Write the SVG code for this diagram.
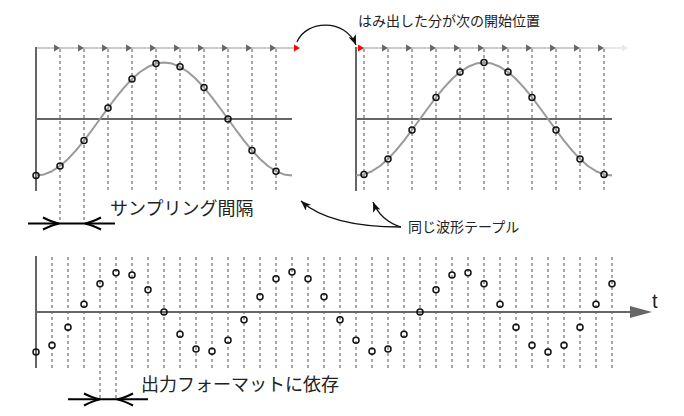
<svg xmlns="http://www.w3.org/2000/svg" width="684" height="416" viewBox="0 0 684 416">
<style>
.axis{stroke:#666;stroke-width:2;fill:none}
.dash{stroke:#777;stroke-width:1.3;stroke-dasharray:3 3;fill:none}
.curve{stroke:#999;stroke-width:2;fill:none;stroke-linejoin:round}
.pt{fill:none;stroke:#111;stroke-width:1.5}
.top{stroke:#ccc;stroke-width:2}
.lbl{font-family:"Noto Sans CJK JP","Noto Sans",sans-serif;fill:#222}
.conn{stroke:#111;stroke-width:1.3;fill:none}
.meas{stroke:#000;stroke-width:2;fill:none}
.chev{stroke:#000;stroke-width:2;fill:none;stroke-linejoin:miter}
</style>
<defs>
<path id="tri" d="M0,0 L-6,-3.5 L-6,3.5 Z"/>
<circle id="c" r="3"/>
<marker id="ah" markerUnits="userSpaceOnUse" markerWidth="11" markerHeight="8" refX="10" refY="4" orient="auto">
<path d="M0,0 L10,4 L0,8 L2.5,4 Z" fill="#111"/>
</marker>
<linearGradient id="fade" x1="356" y1="0" x2="630" y2="0" gradientUnits="userSpaceOnUse">
<stop offset="0" stop-color="#ccc"/>
<stop offset="0.75" stop-color="#ccc"/>
<stop offset="1" stop-color="#f0f0f0"/>
</linearGradient>
</defs>

<g id="chart-top-left">
<line class="top" x1="36" y1="48" x2="298" y2="48"/>
<path class="dash" d="M60,49V221M84,49V221M108,49V191M132,49V191M156,49V191M180,49V191M204,49V191M228,49V191M252,49V191M276,49V191"/>
<path class="axis" d="M36,47V191M36,119H292"/>
<g fill="#666">
<use href="#tri" x="60" y="48"/><use href="#tri" x="84" y="48"/><use href="#tri" x="108" y="48"/><use href="#tri" x="132" y="48"/><use href="#tri" x="156" y="48"/><use href="#tri" x="180" y="48"/><use href="#tri" x="204" y="48"/><use href="#tri" x="228" y="48"/><use href="#tri" x="252" y="48"/><use href="#tri" x="276" y="48"/>
</g>
<use href="#tri" x="300" y="48" fill="#f00"/>
<path class="curve" d="M36,175.5 L44,174.42 L52,171.2 L60,165.98 L68,158.95 L76,150.39 L84,140.62 L92,130.02 L100,119 L108,107.98 L116,97.38 L124,87.61 L132,79.05 L140,72.02 L148,66.8 L156,63.59 L164,62.5 L172,63.59 L180,66.8 L188,72.02 L196,79.05 L204,87.61 L212,97.38 L220,107.98 L228,119 L236,130.02 L244,140.62 L252,150.39 L260,158.95 L268,165.98 L276,171.2 L284,174.42 L292,175.5"/>
<g class="pt">
<use href="#c" x="36" y="175.5"/><use href="#c" x="60" y="165.98"/><use href="#c" x="84" y="140.62"/><use href="#c" x="108" y="107.98"/><use href="#c" x="132" y="79.05"/><use href="#c" x="156" y="63.59"/><use href="#c" x="180" y="66.8"/><use href="#c" x="204" y="87.61"/><use href="#c" x="228" y="119"/><use href="#c" x="252" y="150.39"/><use href="#c" x="276" y="171.2"/>
</g>
</g>

<g id="chart-top-right">
<line x1="356" y1="48" x2="626" y2="48" stroke="url(#fade)" stroke-width="2"/>
<path class="dash" d="M364,49V191M388,49V191M412,49V191M436,49V191M460,49V191M484,49V191M508,49V191M532,49V191M556,49V191M580,49V191M604,49V191"/>
<path class="axis" d="M356,47V191M356,119H612"/>
<use href="#tri" x="364" y="48" fill="#f00"/>
<g fill="#666">
<use href="#tri" x="388" y="48"/><use href="#tri" x="412" y="48"/><use href="#tri" x="436" y="48"/><use href="#tri" x="460" y="48"/><use href="#tri" x="484" y="48"/><use href="#tri" x="508" y="48"/><use href="#tri" x="532" y="48"/><use href="#tri" x="556" y="48"/><use href="#tri" x="580" y="48"/><use href="#tri" x="604" y="48"/>
</g>
<use href="#tri" x="628" y="48" fill="#e8e8e8"/>
<path class="curve" d="M356,175.5 L364,174.42 L372,171.2 L380,165.98 L388,158.95 L396,150.39 L404,140.62 L412,130.02 L420,119 L428,107.98 L436,97.38 L444,87.61 L452,79.05 L460,72.02 L468,66.8 L476,63.59 L484,62.5 L492,63.59 L500,66.8 L508,72.02 L516,79.05 L524,87.61 L532,97.38 L540,107.98 L548,119 L556,130.02 L564,140.62 L572,150.39 L580,158.95 L588,165.98 L596,171.2 L604,174.42 L612,175.5"/>
<g class="pt">
<use href="#c" x="364" y="174.42"/><use href="#c" x="388" y="158.95"/><use href="#c" x="412" y="130.02"/><use href="#c" x="436" y="97.38"/><use href="#c" x="460" y="72.02"/><use href="#c" x="484" y="62.5"/><use href="#c" x="508" y="72.02"/><use href="#c" x="532" y="97.38"/><use href="#c" x="556" y="130.02"/><use href="#c" x="580" y="158.95"/><use href="#c" x="604" y="174.42"/>
</g>
</g>

<g id="chart-bottom">
<path class="dash" d="M52,257V368M68,257V368M84,257V368M100,257V398M116,257V398M132,257V368M148,257V368M164,257V368M180,257V368M196,257V368M212,257V368M228,257V368M244,257V368M260,257V368M276,257V368M292,257V368M308,257V368M324,257V368M340,257V368M356,257V368M372,257V368M388,257V368M404,257V368M420,257V368M436,257V368M452,257V368M468,257V368M484,257V368M500,257V368M516,257V368M532,257V368M548,257V368M564,257V368M580,257V368M596,257V368M612,257V368"/>
<path class="axis" d="M36,256V368M36,312H632"/>
<path d="M630,306 L652,312 L630,318 Z" fill="#666"/>
<g class="pt">
<use href="#c" x="36" y="352"/><use href="#c" x="52" y="345.26"/><use href="#c" x="68" y="327.31"/><use href="#c" x="84" y="304.2"/><use href="#c" x="100" y="283.72"/><use href="#c" x="116" y="272.77"/><use href="#c" x="132" y="275.04"/><use href="#c" x="148" y="289.78"/><use href="#c" x="164" y="312"/><use href="#c" x="180" y="334.22"/><use href="#c" x="196" y="348.96"/><use href="#c" x="212" y="351.23"/><use href="#c" x="228" y="340.28"/><use href="#c" x="244" y="319.8"/><use href="#c" x="260" y="296.69"/><use href="#c" x="276" y="278.74"/><use href="#c" x="292" y="272"/><use href="#c" x="308" y="278.74"/><use href="#c" x="324" y="296.69"/><use href="#c" x="340" y="319.8"/><use href="#c" x="356" y="340.28"/><use href="#c" x="372" y="351.23"/><use href="#c" x="388" y="348.96"/><use href="#c" x="404" y="334.22"/><use href="#c" x="420" y="312"/><use href="#c" x="436" y="289.78"/><use href="#c" x="452" y="275.04"/><use href="#c" x="468" y="272.77"/><use href="#c" x="484" y="283.72"/><use href="#c" x="500" y="304.2"/><use href="#c" x="516" y="327.31"/><use href="#c" x="532" y="345.26"/><use href="#c" x="548" y="352"/><use href="#c" x="564" y="345.26"/><use href="#c" x="580" y="327.31"/><use href="#c" x="596" y="304.2"/><use href="#c" x="612" y="283.72"/>
</g>
<text x="652" y="308" font-family="Liberation Sans, Arial, sans-serif" font-size="20" fill="#222">t</text>
</g>

<g id="measure-sampling">
<line class="meas" x1="28" y1="223.5" x2="115" y2="223.5"/>
<path class="chev" d="M43,217.5 Q52,222 59,223.5 Q52,225 43,229.5"/>
<path class="chev" d="M101,217.5 Q92,222 85,223.5 Q92,225 101,229.5"/>
<text class="lbl" x="110" y="215" font-size="18">サンプリング間隔</text>
</g>

<g id="measure-output">
<line class="meas" x1="68" y1="399.3" x2="148" y2="399.3"/>
<path class="chev" d="M84,393.5 Q93,398 100,399.3 Q93,401 84,405.5"/>
<path class="chev" d="M133,393.5 Q124,398 117,399.3 Q124,401 133,405.5"/>
<text class="lbl" x="141" y="391" font-size="18">出力フォーマットに依存</text>
</g>

<g id="label-overflow">
<text class="lbl" x="358" y="26" font-size="14">はみ出した分が次の開始位置</text>
</g>
<g id="label-table">
<text class="lbl" x="408" y="232" font-size="14">同じ波形テープル</text>
</g>

<g id="connectors">
<path class="conn" d="M297,42 C306,20 345,18 356,45" marker-end="url(#ah)"/>
<path class="conn" d="M401,227 C360,227 322,220 301,201" marker-end="url(#ah)"/>
<path class="conn" d="M401,227 C388,223 378,214 373,202" marker-end="url(#ah)"/>
</g>
</svg>
